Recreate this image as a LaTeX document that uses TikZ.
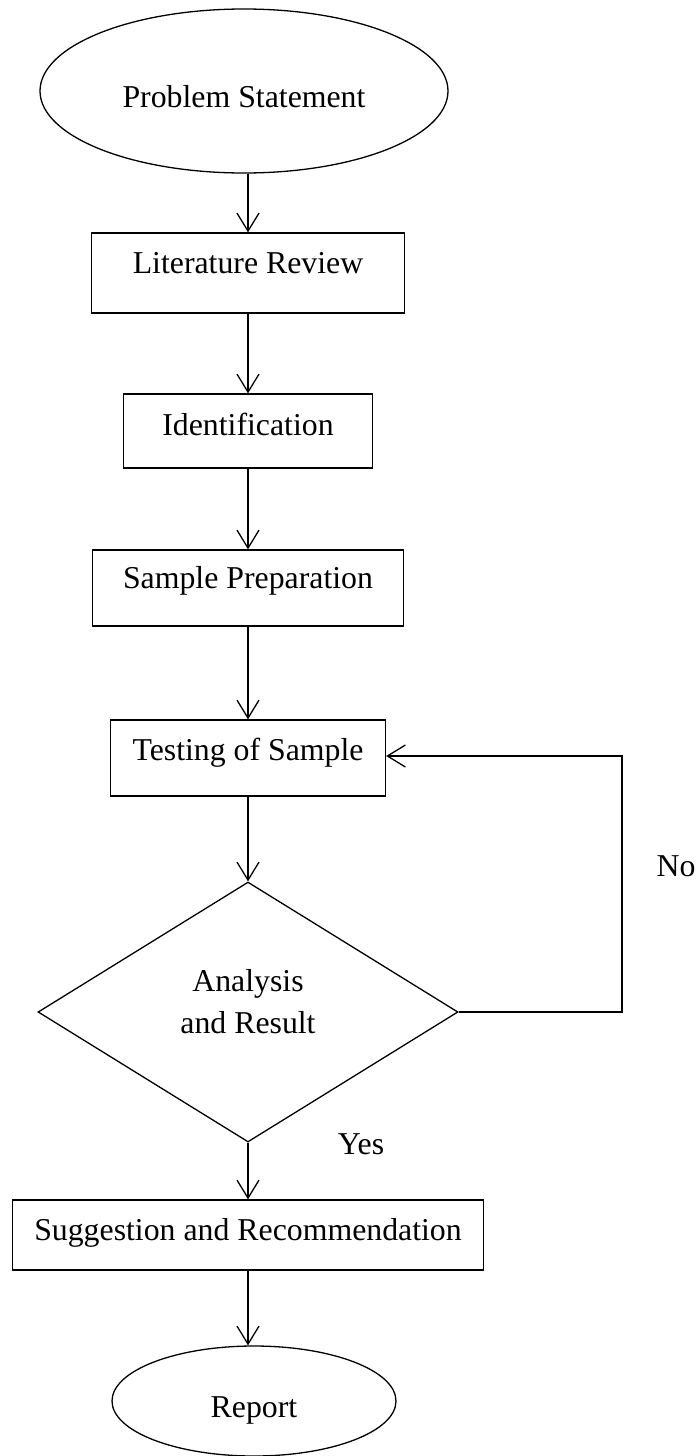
\documentclass[tikz,border=0pt]{standalone}
\usepackage{fontspec}
\setmainfont{Liberation Serif}
\usetikzlibrary{shapes.geometric,arrows.meta}

\begin{document}
\begin{tikzpicture}[x=0.5pt,y=-0.5pt,
  font=\fontsize{15.9}{21}\selectfont,
  line width=0.65pt,
  terminal/.style 2 args={draw,ellipse,inner sep=0pt,minimum width=#1,minimum height=#2,text height=16.5pt,text depth=0pt},
  stage/.style n args={3}{draw,inner sep=0pt,minimum width=#1,text height=#2,text depth=#3},
  decision/.style={draw,diamond,inner sep=0pt,minimum width=210pt,minimum height=130pt,align=center,text depth=11pt},
  flow/.style={-{Straight Barb[length=9pt,width=11pt]}}]
\useasboundingbox (0,0) rectangle (698,1456);

\node (start) [terminal={204pt}{82pt}] at (244,91) {Problem Statement};
\node (lit) [stage={156.5pt}{20pt}{20pt}] at (248,273) {Literature Review};
\node (ident) [stage={124.5pt}{20.75pt}{16.25pt}] at (248,431) {Identification};
\node (prep) [stage={155.5pt}{19.25pt}{18.75pt}] at (248,588) {Sample Preparation};
\node (test) [stage={137.5pt}{20.25pt}{17.75pt}] at (248,758) {Testing of Sample};
\node (result) [decision] at (248,1012) {Analysis\\and Result};
\node (suggest) [stage={235.5pt}{20.25pt}{14.75pt}] at (248,1235) {Suggestion and Recommendation};
\node (report) [terminal={142pt}{55pt}] at (254,1401) {Report};

% branch labels
\node (yes) at (361,1144) {Yes};
\node (no) at (676,866) {No};
\coordinate (noturn) at (622,756);

\draw [flow] (start.south -| lit.north) -- (lit.north);
\draw [flow] (lit) -- (ident);
\draw [flow] (ident) -- (prep);
\draw [flow] (prep) -- (test);
\draw [flow] (test) -- (result);
\draw [flow] (result) -- (suggest);
\draw [flow] (suggest.south) -- (suggest.south |- report.north);
\draw [flow] (result.east) -| (noturn) -- (noturn -| test.east);
\end{tikzpicture}
\end{document}
